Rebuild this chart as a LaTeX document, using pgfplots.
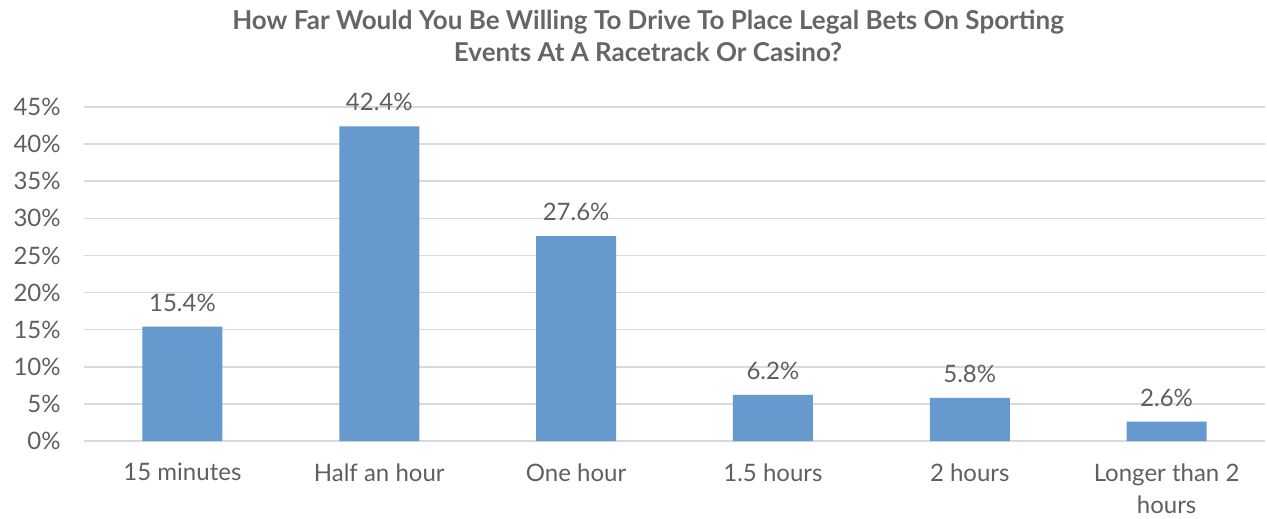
\documentclass[border=0pt]{standalone}
\usepackage{pgfplots}
\pgfplotsset{compat=1.18}
\usepackage{fontspec}
\setmainfont{Lato}
\definecolor{barblue}{HTML}{6699CE}
\definecolor{txtgray}{HTML}{5F5F5F}
\definecolor{ttlgray}{HTML}{666666}
\definecolor{gridgray}{HTML}{D9D9D9}
\begin{document}
\begin{tikzpicture}
\path[use as bounding box] (0pt,0pt) rectangle (950.25pt,388.5pt);
\node[font=\fontsize{19.5}{24}\selectfont\bfseries, text=ttlgray, align=center] at (486pt,361.5pt) {How Far Would You Be Willing To Drive To Place Legal Bets On Sporting\\Events At A Racetrack Or Casino?};
\begin{axis}[
  at={(63pt,57.75pt)}, anchor=south west,
  scale only axis, width=885.75pt, height=250.5pt,
  xmin=-0.5, xmax=5.5, ymin=0, ymax=45,
  ybar, bar width=60pt,
  axis line style={draw=none},
  tick style={draw=none},
  ytick={0,5,...,45},
  yticklabel={\pgfmathprintnumber{\tick}\%},
  ymajorgrids, grid style={gridgray, line width=1.2pt},
  xtick=data,
  xticklabels={15 minutes, Half an hour, One hour, 1.5 hours, 2 hours, {Longer than 2\\hours}},
  ticklabel style={font=\fontsize{18}{24}\selectfont, text=txtgray},
  /pgf/number format/assume math mode=true,
  xticklabel style={align=center, yshift=-9pt},
  yticklabel style={xshift=-14pt},
  nodes near coords={\pgfmathprintnumber[fixed,fixed zerofill,precision=1]{\pgfplotspointmeta}\%},
  nodes near coords style={font=\fontsize{18}{22}\selectfont, text=txtgray, yshift=8pt},
]
\addplot[fill=barblue, draw=none] coordinates {(0,15.4) (1,42.4) (2,27.6) (3,6.2) (4,5.8) (5,2.6)};
\end{axis}
\end{tikzpicture}
\end{document}
